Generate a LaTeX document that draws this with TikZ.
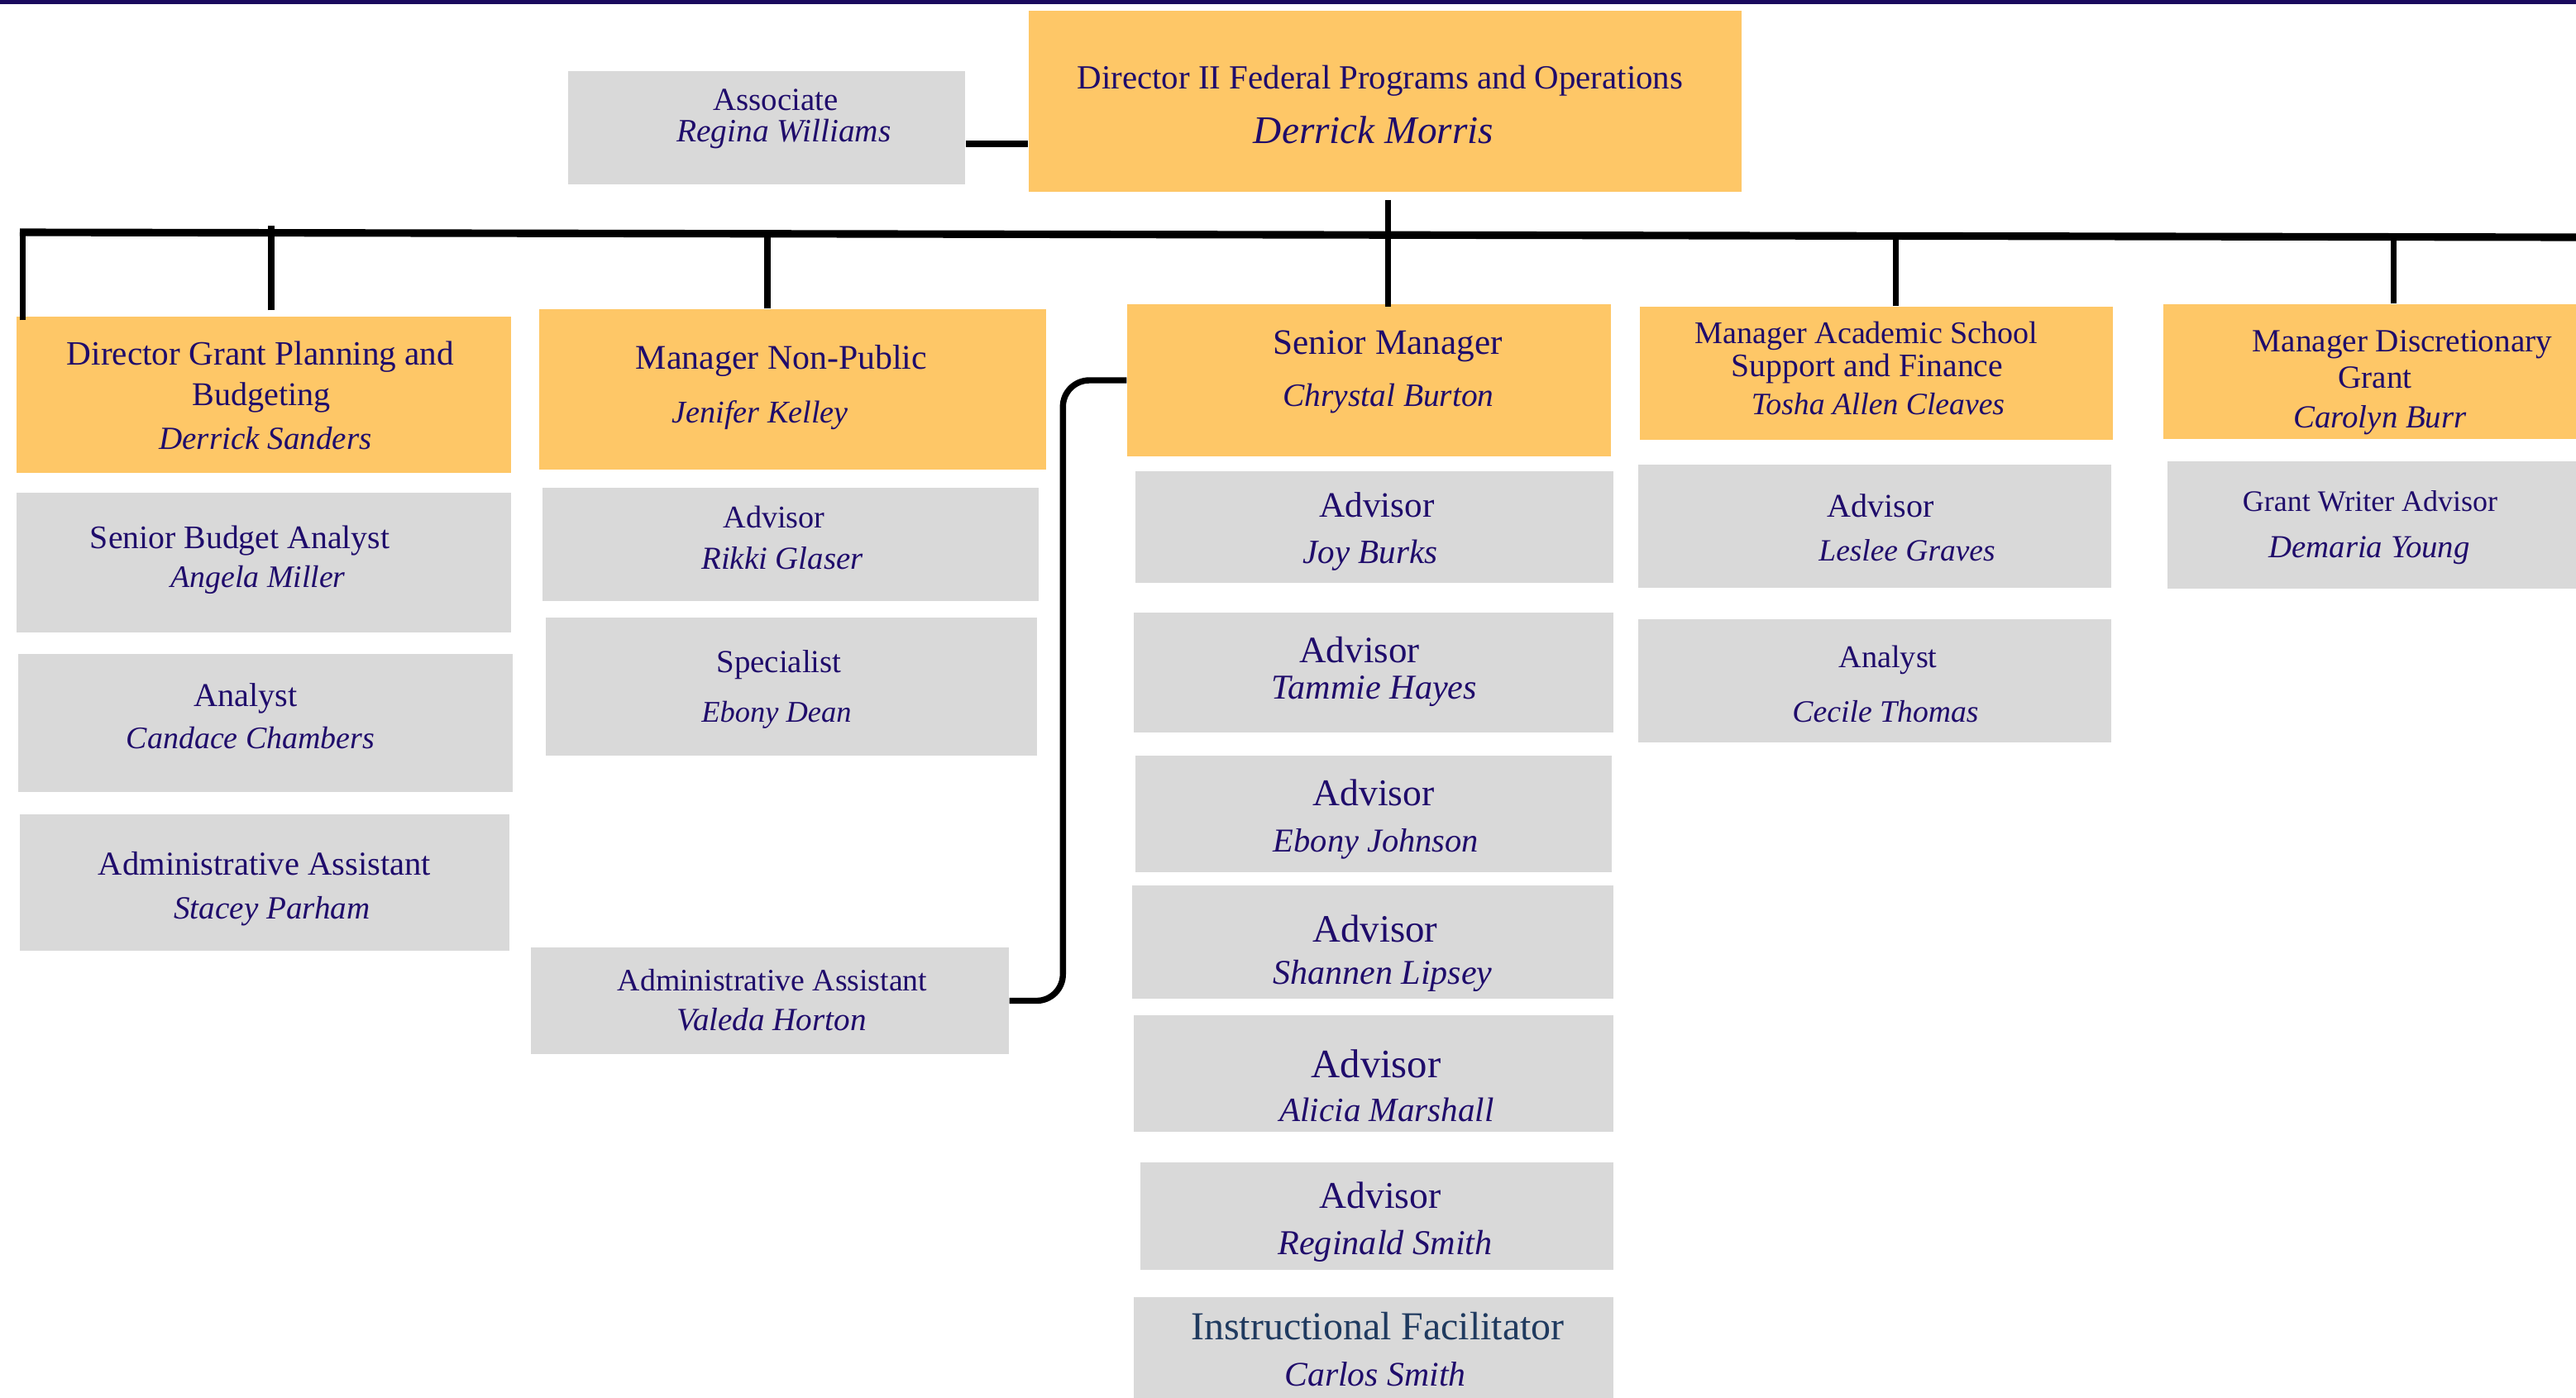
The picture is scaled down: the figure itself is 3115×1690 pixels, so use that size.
\documentclass[tikz,border=0pt]{standalone}
\usepackage{fontspec}
\setmainfont{Liberation Serif}
\usetikzlibrary{fit,calc}
\definecolor{ink}{HTML}{1F0C6B}
\definecolor{slate}{HTML}{1F3A5F}
\definecolor{gold}{HTML}{FEC767}
\definecolor{silver}{HTML}{D9D9D9}
\definecolor{navy}{HTML}{1A0A5E}
\newcommand\rl[5]{\node[txt] (#1) at (#2,#3) {\resizebox{#4cm}{!}{\vphantom{Ag}#5}};}
\newcommand\il[5]{\node[txt] (#1) at (#2,#3) {\resizebox{#4cm}{!}{\vphantom{Ag}\itshape #5}};}
\begin{document}
\begin{tikzpicture}[x=0.01cm,y=-0.01cm,
  gbox/.style={fill=gold,inner sep=0pt,draw=none},
  sbox/.style={fill=silver,inner sep=0pt,draw=none},
  txt/.style={inner sep=0pt,text=ink,yshift=-0.035cm},
  bus/.style={line width=2.6pt,black},
  vline/.style={line width=2pt,black},
  link/.style={line width=2.1pt,black,rounded corners=0.32cm}]
\useasboundingbox (0,0) rectangle (3115,1690);
\fill[white] (0,0) rectangle (3115,1690);
\fill[navy] (0,0) rectangle (3115,5);

% boxes
\node[gbox,fit={(1244,13)(2106,232)}] (dir) {};
\node[sbox,fit={(687,86)(1167,223)}] (assoc) {};
\node[gbox,fit={(20,383)(618,572)}] (b1) {};
\node[sbox,fit={(20,596)(618,765)}] (b2) {};
\node[sbox,fit={(22,791)(620,958)}] (b3) {};
\node[sbox,fit={(24,985)(616,1150)}] (b4) {};
\node[gbox,fit={(652,374)(1265,568)}] (b5) {};
\node[sbox,fit={(656,590)(1256,727)}] (b6) {};
\node[sbox,fit={(660,747)(1254,914)}] (b7) {};
\node[sbox,fit={(642,1146)(1220,1275)}] (b8) {};
\node[gbox,fit={(1363,368)(1948,552)}] (sm) {};
\node[sbox,fit={(1373,570)(1951,705)}] (c1) {};
\node[sbox,fit={(1371,741)(1951,886)}] (c2) {};
\node[sbox,fit={(1373,914)(1949,1055)}] (c3) {};
\node[sbox,fit={(1369,1071)(1951,1208)}] (c4) {};
\node[sbox,fit={(1371,1228)(1951,1369)}] (c5) {};
\node[sbox,fit={(1379,1406)(1951,1536)}] (c6) {};
\node[sbox,fit={(1371,1569)(1951,1700)}] (c7) {};
\node[gbox,fit={(1983,371)(2555,532)}] (d1) {};
\node[sbox,fit={(1981,562)(2553,711)}] (d2) {};
\node[sbox,fit={(1981,749)(2553,898)}] (d3) {};
\node[gbox,fit={(2616,368)(3125,531)}] (e1) {};
\node[sbox,fit={(2621,558)(3125,712)}] (e2) {};

% connectors
\coordinate (busL) at (24,281);
\coordinate (busR) at (3115,287);
\draw[bus] (busL) -- (busR);
\coordinate (ac) at ([yshift=-0.195cm]assoc.east);
\draw[line width=2.3pt] (ac) -- (ac -| dir.west);
\draw[vline] ([xshift=0.03cm,yshift=-0.09cm]dir.south) -- ++(0,129);
\draw[vline] ([xshift=0.08cm,yshift=-0.05cm]b1.north west) -- ++(0,-107);
\draw[vline] ([xshift=0.09cm,yshift=0.07cm]b1.north) -- ++(0,-102);
\draw[vline] ([xshift=-0.305cm]b5.north) -- ++(0,-91);
\draw[vline] ([xshift=0.23cm]d1.north) -- ++(0,-86);
\draw[vline] ([xshift=2.79cm]e1.north west) -- ++(0,-82);
\draw[link] (sm.west) -- ++(-77,0) |- (b8.east);

% texts
\rl{dirT}{1669}{94}{7.32}{Director II Federal Programs and Operations}
\il{dirN}{1661}{159}{2.90}{Derrick Morris}
\rl{asT}{938}{121}{1.51}{Associate}
\il{asN}{948}{159}{2.59}{Regina Williams}

\rl{b1T}{315}{428}{4.68}{Director Grant Planning and}
\rl{b1U}{316}{477}{1.67}{Budgeting}
\il{b1N}{321}{531}{2.57}{Derrick Sanders}
\rl{b2T}{290}{650}{3.62}{Senior Budget Analyst}
\il{b2N}{312}{698}{2.11}{Angela Miller}
\rl{b3T}{297}{841}{1.25}{Analyst}
\il{b3N}{303}{893}{3.00}{Candace Chambers}
\rl{b4T}{320}{1045}{4.02}{Administrative Assistant}
\il{b4N}{329}{1099}{2.37}{Stacey Parham}

\rl{b5T}{945}{433}{3.52}{Manager Non-Public}
\il{b5N}{919}{499}{2.13}{Jenifer Kelley}
\rl{b6T}{936}{626}{1.23}{Advisor}
\il{b6N}{946}{676}{1.95}{Rikki Glaser}
\rl{b7T}{942}{801}{1.51}{Specialist}
\il{b7N}{939}{861}{1.81}{Ebony Dean}
\rl{b8T}{934}{1186}{3.74}{Administrative Assistant}
\il{b8N}{933}{1234}{2.29}{Valeda Horton}

\rl{smT}{1678}{415}{2.77}{Senior Manager}
\il{smN}{1679}{479}{2.55}{Chrystal Burton}
\rl{c1T}{1665}{612}{1.39}{Advisor}
\il{c1N}{1657}{668}{1.63}{Joy Burks}
\rl{c2T}{1644}{787}{1.45}{Advisor}
\il{c2N}{1662}{833}{2.48}{Tammie Hayes}
\rl{c3T}{1661}{960}{1.47}{Advisor}
\il{c3N}{1664}{1017}{2.48}{Ebony Johnson}
\rl{c4T}{1663}{1125}{1.51}{Advisor}
\il{c4N}{1672}{1177}{2.65}{Shannen Lipsey}
\rl{c5T}{1664}{1288}{1.57}{Advisor}
\il{c5N}{1677}{1343}{2.59}{Alicia Marshall}
\rl{c6T}{1669}{1447}{1.47}{Advisor}
\il{c6N}{1675}{1504}{2.59}{Reginald Smith}
\rl{c7T}{1666}{1606}{4.51}{\color{slate}Instructional Facilitator}
\il{c7N}{1663}{1663}{2.19}{Carlos Smith}

\rl{d1T}{2257}{403}{4.14}{Manager Academic School}
\rl{d1U}{2258}{443}{3.28}{Support and Finance}
\il{d1N}{2271}{489}{3.06}{Tosha Allen Cleaves}
\rl{d2T}{2274}{612}{1.29}{Advisor}
\il{d2N}{2306}{666}{2.13}{Leslee Graves}
\rl{d3T}{2283}{795}{1.19}{Analyst}
\il{d3N}{2280}{861}{2.25}{Cecile Thomas}

\rl{e1T}{2905}{413}{3.62}{Manager Discretionary}
\rl{e1U}{2872}{457}{0.89}{Grant}
\il{e1N}{2878}{505}{2.09}{Carolyn Burr}
\rl{e2T}{2866}{606}{3.08}{Grant Writer Advisor}
\il{e2N}{2865}{662}{2.43}{Demaria Young}
\end{tikzpicture}
\end{document}
